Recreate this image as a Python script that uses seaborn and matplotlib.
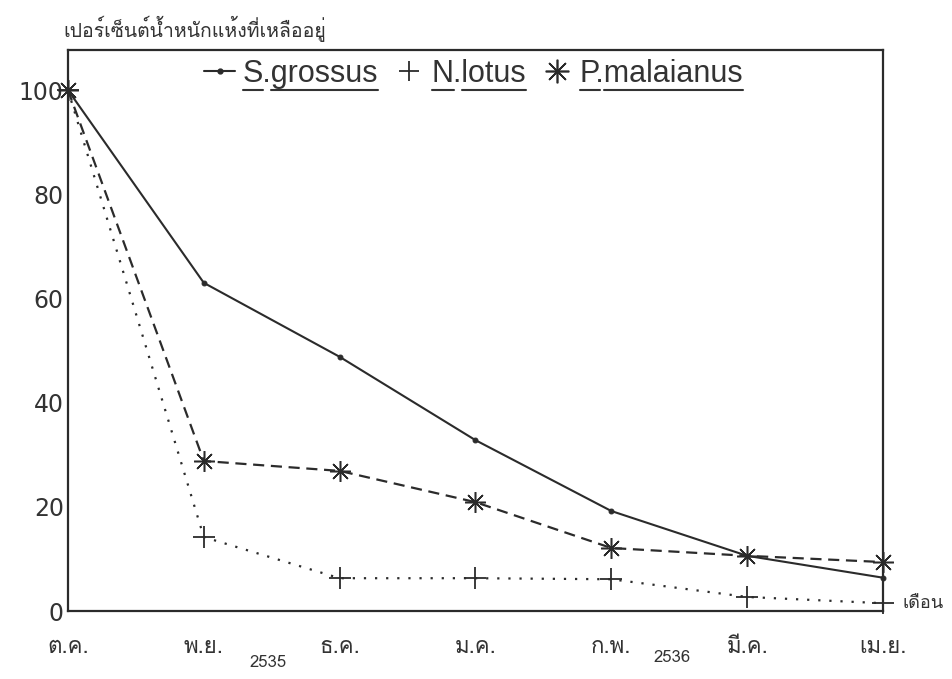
"""
Remaining dry weight of three aquatic plants, Oct 2535 - Apr 2536.
"""
import matplotlib
matplotlib.use("Agg")
import matplotlib.pyplot as plt
import seaborn as sns
from matplotlib import font_manager
from matplotlib.ft2font import FT2Font
from matplotlib.lines import Line2D

# data
months = ["ต.ค.", "พ.ย.", "ธ.ค.", "ม.ค.", "ก.พ.", "มี.ค.", "เม.ย."]
s_grossus = [100, 63.0, 48.8, 32.8, 19.2, 10.6, 6.4]
n_lotus = [100, 14.2, 6.3, 6.3, 6.1, 2.7, 1.5]
p_malaianus = [100, 28.8, 26.9, 20.9, 12.1, 10.6, 9.4]
species = ["S.grossus", "N.lotus", "P.malaianus"]
yticks = [0, 20, 40, 60, 80, 100]


def thai_font():
    """Find an installed family that has Thai glyphs"""
    for f in font_manager.fontManager.ttflist:
        try:
            if ord("ก") in FT2Font(f.fname).get_charmap():
                return f.name
        except Exception:
            pass
    return "DejaVu Sans"


sns.set_theme(style="white")
plt.rcParams["font.family"] = ["Liberation Sans", "DejaVu Sans"]
thai = [thai_font(), "DejaVu Sans"]

ink = "#2b2b2b"
grey = "#333333"
fig = plt.figure(figsize=(9.52, 6.79), dpi=100)
ax = fig.add_axes([0.0714, 0.1001, 0.8561, 0.8263])

x = list(range(len(months)))
sns.lineplot(x=x, y=s_grossus, ax=ax, color=ink, lw=1.5, marker="o", ms=3.5,
             mec=ink, linestyle="-", clip_on=False, zorder=3)
sns.lineplot(x=x, y=n_lotus, ax=ax, color=ink, lw=1.6, marker="+", ms=16,
             mec=ink, mew=1.3, linestyle=(0, (1, 4)), clip_on=False, zorder=3)
sns.lineplot(x=x, y=p_malaianus, ax=ax, color=ink, lw=1.6, marker=(8, 2, 0),
             ms=15, mec=ink, mew=1.1, linestyle=(0, (5, 3)), clip_on=False,
             zorder=3)

ax.set_xlim(0, 6)
ax.set_ylim(0, 107.7)
ax.set_yticks(yticks)
ax.set_yticklabels([str(v) for v in yticks], fontsize=17,
                   family="DejaVu Sans", color=grey)
ax.set_xticks(x)
ax.set_xticklabels(months, fontsize=16, family=thai, color=grey)
ax.tick_params(axis="both", length=0)
ax.tick_params(axis="x", pad=19)
ax.tick_params(axis="y", pad=3)
for sp in ax.spines.values():
    sp.set_color(ink)
    sp.set_linewidth(1.6)

handles = [
    Line2D([], [], color=ink, lw=1.5, marker="o", ms=3.5),
    Line2D([], [], color=ink, lw=0, marker="+", ms=15, mew=1.3),
    Line2D([], [], color=ink, lw=0, marker=(8, 2, 0), ms=17, mew=1.2),
]
leg = ax.legend(handles, species, loc="center", bbox_to_anchor=(0.498, 0.957),
                ncol=3, frameon=False, fontsize=22, handlelength=1.0,
                handletextpad=0.25, columnspacing=0.5, labelcolor=grey,
                borderpad=0, borderaxespad=0)

fig.text(0.067, 0.957, "เปอร์เซ็นต์น้ำหนักแห้งที่เหลืออยู่", fontsize=14,
         family=thai, color=grey, va="center")
fig.text(0.282, 0.024, "2535", fontsize=12, family=thai, color=grey,
         ha="center", va="center")
fig.text(0.706, 0.031, "2536", fontsize=12, family=thai, color=grey,
         ha="center", va="center")
fig.text(0.948, 0.112, "เดือน", fontsize=13, family=thai, color=grey,
         ha="left", va="center")

# underline genus initial and epithet separately, as in the scan
fig.canvas.draw()
r = fig.canvas.get_renderer()
to_fig = fig.transFigure.inverted()
for t in leg.get_texts():
    bb = t.get_window_extent(r)
    prop = t.get_fontproperties()
    s = t.get_text()
    w1 = r.get_text_width_height_descent(s[:1], prop, ismath=False)[0]
    w2 = r.get_text_width_height_descent(s[:2], prop, ismath=False)[0]
    y = bb.y0 - 1
    for a, b in [(bb.x0, bb.x0 + w1), (bb.x0 + w2, bb.x1)]:
        (fx0, fy), (fx1, _) = to_fig.transform([(a, y), (b, y)])
        fig.add_artist(Line2D([fx0, fx1], [fy, fy], color=grey, lw=1.5))

fig.savefig("out.png", dpi=100)
